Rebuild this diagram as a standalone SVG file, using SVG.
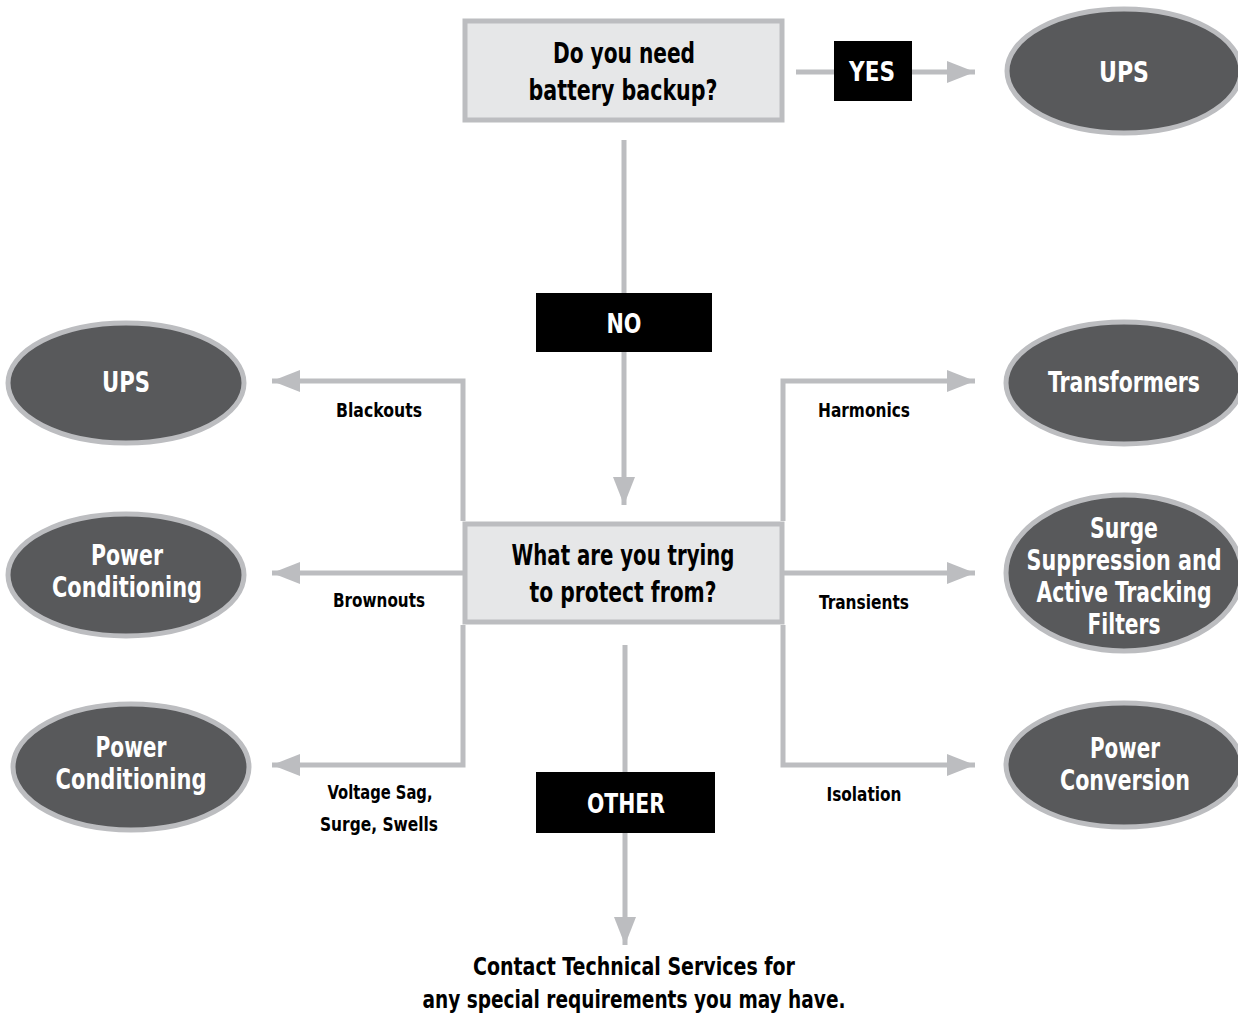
<svg xmlns="http://www.w3.org/2000/svg" width="1238" height="1016" viewBox="0 0 1238 1016">
<defs>
<marker id="ah" markerUnits="userSpaceOnUse" markerWidth="30" markerHeight="24" refX="28" refY="12" orient="auto">
<path d="M0,1 L28,12 L0,23 Z" fill="#bcbdc0"/>
</marker>
<style>
.q{fill:#e6e7e8;stroke:#bcbdc0;stroke-width:5}
.tag{fill:#000}
.ell{fill:#58595b;stroke:#bcbdc0;stroke-width:5}
.c{fill:none;stroke:#bcbdc0;stroke-width:5}
text{font-family:"DejaVu Sans Condensed","Liberation Sans",sans-serif;font-weight:bold;text-anchor:middle}
.qt{font-size:29px;fill:#000}
.tt{font-size:27px;fill:#fff}
.et{font-size:28px;fill:#fff}
.lb{font-size:20px;fill:#000}
.ft{font-size:25px;fill:#000}
</style>
</defs>
<g id="connectors">
<line class="c" x1="796" y1="72" x2="975" y2="72" marker-end="url(#ah)"/>
<line class="c" x1="624" y1="140" x2="624" y2="505" marker-end="url(#ah)"/>
<polyline class="c" points="463,521 463,381 272,381" marker-end="url(#ah)"/>
<line class="c" x1="463" y1="573" x2="272" y2="573" marker-end="url(#ah)"/>
<polyline class="c" points="463,625 463,765 272,765" marker-end="url(#ah)"/>
<polyline class="c" points="783,521 783,381 975,381" marker-end="url(#ah)"/>
<line class="c" x1="783" y1="573" x2="975" y2="573" marker-end="url(#ah)"/>
<polyline class="c" points="783,625 783,765 975,765" marker-end="url(#ah)"/>
<line class="c" x1="625" y1="645" x2="625" y2="945" marker-end="url(#ah)"/>
</g>
<g id="q1">
<rect class="q" x="465" y="21" width="317" height="99"/>
<text class="qt" x="624" y="63" textLength="142" lengthAdjust="spacingAndGlyphs">Do you need</text>
<text class="qt" x="623" y="100" textLength="189" lengthAdjust="spacingAndGlyphs">battery backup?</text>
</g>
<g id="yes">
<rect class="tag" x="834" y="41" width="78" height="60"/>
<text class="tt" x="872" y="81" textLength="46" lengthAdjust="spacingAndGlyphs">YES</text>
</g>
<g id="ups-top">
<ellipse class="ell" cx="1124" cy="71" rx="117" ry="62"/>
<text class="et" x="1124" y="82" textLength="50" lengthAdjust="spacingAndGlyphs">UPS</text>
</g>
<g id="no">
<rect class="tag" x="536" y="293" width="176" height="59"/>
<text class="tt" x="624" y="333" textLength="35" lengthAdjust="spacingAndGlyphs">NO</text>
</g>
<g id="q2">
<rect class="q" x="465" y="524" width="317" height="98"/>
<text class="qt" x="623" y="565" textLength="223" lengthAdjust="spacingAndGlyphs">What are you trying</text>
<text class="qt" x="623" y="602" textLength="187" lengthAdjust="spacingAndGlyphs">to protect from?</text>
</g>
<g id="ups-left">
<ellipse class="ell" cx="126" cy="383" rx="118" ry="60"/>
<text class="et" x="126" y="392" textLength="48" lengthAdjust="spacingAndGlyphs">UPS</text>
</g>
<g id="pc1">
<ellipse class="ell" cx="126" cy="575" rx="118" ry="61"/>
<text class="et" x="127" y="565" textLength="72" lengthAdjust="spacingAndGlyphs">Power</text>
<text class="et" x="127" y="597" textLength="150" lengthAdjust="spacingAndGlyphs">Conditioning</text>
</g>
<g id="pc2">
<ellipse class="ell" cx="131" cy="767" rx="118" ry="63"/>
<text class="et" x="131" y="757" textLength="71" lengthAdjust="spacingAndGlyphs">Power</text>
<text class="et" x="131" y="789" textLength="151" lengthAdjust="spacingAndGlyphs">Conditioning</text>
</g>
<g id="transformers">
<ellipse class="ell" cx="1124" cy="383" rx="118" ry="61"/>
<text class="et" x="1124" y="392" textLength="152" lengthAdjust="spacingAndGlyphs">Transformers</text>
</g>
<g id="surge">
<ellipse class="ell" cx="1124" cy="573" rx="118" ry="78"/>
<text class="et" x="1124" y="538" textLength="68" lengthAdjust="spacingAndGlyphs">Surge</text>
<text class="et" x="1124" y="570" textLength="195" lengthAdjust="spacingAndGlyphs">Suppression and</text>
<text class="et" x="1124" y="602" textLength="175" lengthAdjust="spacingAndGlyphs">Active Tracking</text>
<text class="et" x="1124" y="634" textLength="73" lengthAdjust="spacingAndGlyphs">Filters</text>
</g>
<g id="conversion">
<ellipse class="ell" cx="1124" cy="765" rx="118" ry="62"/>
<text class="et" x="1125" y="758" textLength="70" lengthAdjust="spacingAndGlyphs">Power</text>
<text class="et" x="1125" y="790" textLength="130" lengthAdjust="spacingAndGlyphs">Conversion</text>
</g>
<g id="other">
<rect class="tag" x="536" y="772" width="179" height="61"/>
<text class="tt" x="626" y="813" textLength="78" lengthAdjust="spacingAndGlyphs">OTHER</text>
</g>
<g id="labels">
<text class="lb" x="379" y="417" textLength="86" lengthAdjust="spacingAndGlyphs">Blackouts</text>
<text class="lb" x="379" y="607" textLength="92" lengthAdjust="spacingAndGlyphs">Brownouts</text>
<text class="lb" x="380" y="799" textLength="105" lengthAdjust="spacingAndGlyphs">Voltage Sag,</text>
<text class="lb" x="379" y="831" textLength="118" lengthAdjust="spacingAndGlyphs">Surge, Swells</text>
<text class="lb" x="864" y="417" textLength="92" lengthAdjust="spacingAndGlyphs">Harmonics</text>
<text class="lb" x="864" y="609" textLength="90" lengthAdjust="spacingAndGlyphs">Transients</text>
<text class="lb" x="864" y="801" textLength="75" lengthAdjust="spacingAndGlyphs">Isolation</text>
</g>
<g id="footer">
<text class="ft" x="634" y="975" textLength="322" lengthAdjust="spacingAndGlyphs">Contact Technical Services for</text>
<text class="ft" x="634" y="1008" textLength="423" lengthAdjust="spacingAndGlyphs">any special requirements you may have.</text>
</g>
</svg>
